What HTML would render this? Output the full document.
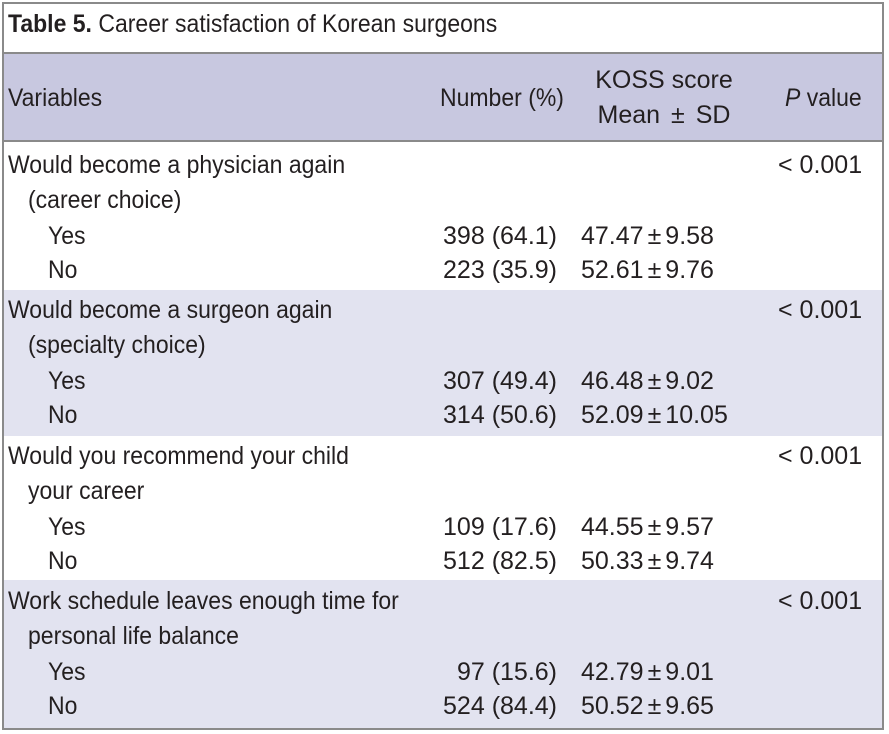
<!DOCTYPE html>
<html><head><meta charset="utf-8"><style>
body{margin:0;width:889px;height:734px;background:#fff;overflow:hidden}
#t{position:absolute;left:2px;top:2px;width:882px;height:728px;border:2px solid #8a8a8a;box-sizing:border-box;font-family:"Liberation Sans Narrow","Liberation Sans",sans-serif;color:#231f20;font-size:25px}
.x{position:absolute;line-height:36px;white-space:nowrap}
.s{transform:scaleX(0.92);transform-origin:left center}
.r{text-align:right}
.bg{position:absolute;left:0;right:0}
.pm{margin:0 4px}
</style></head><body>
<div id="t">
<div class="bg" style="top:0;height:48px;border-bottom:2px solid #8a8a8a"></div>
<div class="bg" style="top:50px;height:86px;background:#c8c8e0;border-bottom:2px solid #8a8a8a"></div>
<div class="bg" style="top:286px;height:146px;background:#e2e3f0"></div>
<div class="bg" style="top:576px;height:148px;background:#e2e3f0"></div>
<div class="x s" style="left:4px;top:2px"><b>Table 5.</b> Career satisfaction of Korean surgeons</div>
<div class="x s" style="left:4px;top:76px">Variables</div>
<div class="x s" style="left:436px;top:76px">Number (%)</div>
<div class="x" style="left:560px;width:200px;text-align:center;top:58px">KOSS score</div>
<div class="x" style="left:560px;width:200px;text-align:center;top:93px">Mean <span class="pm">±</span> SD</div>
<div class="x s" style="left:781px;top:76px"><i>P</i> value</div>
</div>
<script>
var groups=[["Would become a physician again","(career choice)"],["Would become a surgeon again","(specialty choice)"],["Would you recommend your child","your career"],["Work schedule leaves enough time for","personal life balance"]];
var nums=[["398 (64.1)","223 (35.9)"],["307 (49.4)","314 (50.6)"],["109 (17.6)","512 (82.5)"],["97 (15.6)","524 (84.4)"]];
var koss=[["47.47 ± 9.58","52.61 ± 9.76"],["46.48 ± 9.02","52.09 ± 10.05"],["44.55 ± 9.57","50.33 ± 9.74"],["42.79 ± 9.01","50.52 ± 9.65"]];
var pv=["< 0.001","< 0.001","< 0.001","< 0.001"];
var tops=[143,288,434,579];
var t=document.getElementById('t');
function add(txt,left,top,name,mode){var d=document.createElement('div');d.className='x'+(mode==='r'?' r':'')+(mode==='s'?' s':'');
if(mode==='k'){var p=txt.split(' ± ');d.innerHTML=p[0]+'<span class="pm">±</span>'+p[1];}else d.textContent=txt;
d.style.top=top+'px';if(mode==='r'){d.style.left=(left-200)+'px';d.style.width='200px';}else d.style.left=left+'px';


t.appendChild(d);}
for(var g=0;g<4;g++){var y=tops[g];
add(groups[g][0],4,y,'group-'+(g+1)+'-label','s');
add(groups[g][1],24,y+35,'group-'+(g+1)+'-sublabel','s');
add(pv[g],774,y,'group-'+(g+1)+'-p-value');
var lab=["Yes","No"];
for(var k=0;k<2;k++){var yy=y+71+k*34;
add(lab[k],44,yy,'group-'+(g+1)+'-'+lab[k].toLowerCase()+'-label','s');
add(nums[g][k],553,yy,'group-'+(g+1)+'-'+lab[k].toLowerCase()+'-number','r');
add(koss[g][k],577,yy,'group-'+(g+1)+'-'+lab[k].toLowerCase()+'-koss','k');}}
</script>
</body></html>
